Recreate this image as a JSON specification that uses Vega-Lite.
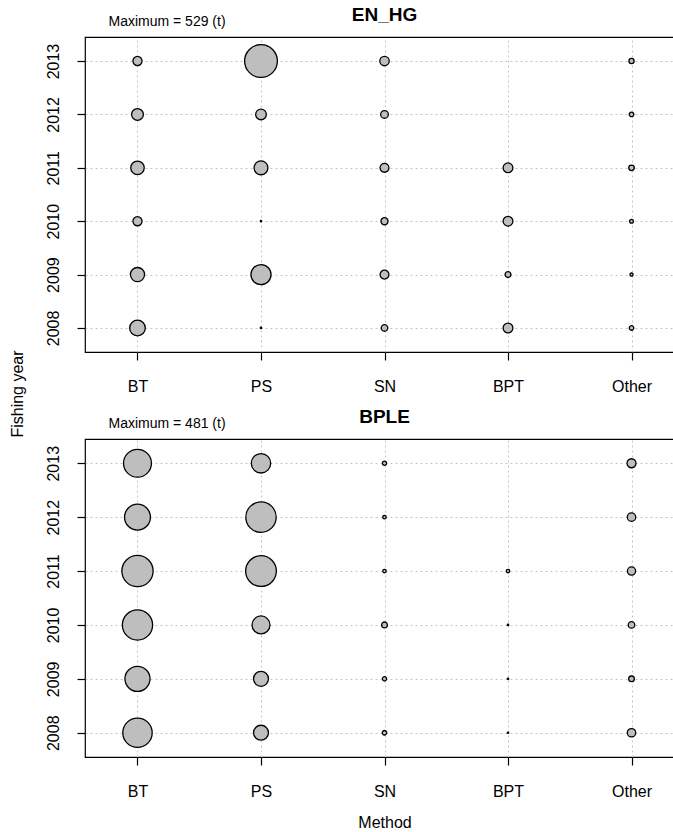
{
  "$schema": "https://vega.github.io/schema/vega-lite/v6.json",
  "padding": {"left": 10, "top": 5, "right": 0, "bottom": 0},
  "background": "white",
  "datasets": {
    "enhg": [
      {"method": "BT", "year": 2013, "catch": 41},
      {"method": "BT", "year": 2012, "catch": 68},
      {"method": "BT", "year": 2011, "catch": 90},
      {"method": "BT", "year": 2010, "catch": 41},
      {"method": "BT", "year": 2009, "catch": 99},
      {"method": "BT", "year": 2008, "catch": 121},
      {"method": "PS", "year": 2013, "catch": 529},
      {"method": "PS", "year": 2012, "catch": 56},
      {"method": "PS", "year": 2011, "catch": 95},
      {"method": "PS", "year": 2010, "catch": 1},
      {"method": "PS", "year": 2009, "catch": 199},
      {"method": "PS", "year": 2008, "catch": 1},
      {"method": "SN", "year": 2013, "catch": 44},
      {"method": "SN", "year": 2012, "catch": 29},
      {"method": "SN", "year": 2011, "catch": 39},
      {"method": "SN", "year": 2010, "catch": 25},
      {"method": "SN", "year": 2009, "catch": 39},
      {"method": "SN", "year": 2008, "catch": 21},
      {"method": "BPT", "year": 2011, "catch": 47},
      {"method": "BPT", "year": 2010, "catch": 47},
      {"method": "BPT", "year": 2009, "catch": 17},
      {"method": "BPT", "year": 2008, "catch": 47},
      {"method": "Other", "year": 2013, "catch": 13},
      {"method": "Other", "year": 2012, "catch": 10},
      {"method": "Other", "year": 2011, "catch": 15},
      {"method": "Other", "year": 2010, "catch": 7},
      {"method": "Other", "year": 2009, "catch": 5},
      {"method": "Other", "year": 2008, "catch": 10}
    ],
    "bple": [
      {"method": "BT", "year": 2013, "catch": 383},
      {"method": "BT", "year": 2012, "catch": 329},
      {"method": "BT", "year": 2011, "catch": 481},
      {"method": "BT", "year": 2010, "catch": 450},
      {"method": "BT", "year": 2009, "catch": 310},
      {"method": "BT", "year": 2008, "catch": 425},
      {"method": "PS", "year": 2013, "catch": 186},
      {"method": "PS", "year": 2012, "catch": 455},
      {"method": "PS", "year": 2011, "catch": 465},
      {"method": "PS", "year": 2010, "catch": 159},
      {"method": "PS", "year": 2009, "catch": 110},
      {"method": "PS", "year": 2008, "catch": 110},
      {"method": "SN", "year": 2013, "catch": 9},
      {"method": "SN", "year": 2012, "catch": 6},
      {"method": "SN", "year": 2011, "catch": 6},
      {"method": "SN", "year": 2010, "catch": 17},
      {"method": "SN", "year": 2009, "catch": 9},
      {"method": "SN", "year": 2008, "catch": 10},
      {"method": "BPT", "year": 2011, "catch": 6},
      {"method": "BPT", "year": 2010, "catch": 1},
      {"method": "BPT", "year": 2009, "catch": 1},
      {"method": "BPT", "year": 2008, "catch": 1},
      {"method": "Other", "year": 2013, "catch": 40},
      {"method": "Other", "year": 2012, "catch": 35},
      {"method": "Other", "year": 2011, "catch": 33},
      {"method": "Other", "year": 2010, "catch": 21},
      {"method": "Other", "year": 2009, "catch": 16},
      {"method": "Other", "year": 2008, "catch": 35}
    ]
  },
  "title": {
    "text": "Fishing year",
    "orient": "left",
    "anchor": "middle",
    "frame": "bounds",
    "fontSize": 16,
    "fontWeight": "normal",
    "font": "Liberation Sans",
    "color": "black",
    "offset": 18,
    "dx": 24
  },
  "spacing": 12,
  "vconcat": [
    {
      "title": {"text": "EN_HG", "anchor": "middle", "offset": -11},
      "width": 599,
      "height": 315,
      "data": {"name": "enhg"},
      "resolve": {"axis": {"x": "independent"}},
      "layer": [
        {
          "mark": {"type": "point", "shape": "circle", "filled": true, "fill": "#bebebe", "stroke": "black", "strokeWidth": 1.3, "opacity": 1},
          "encoding": {
            "x": {"field": "method", "type": "nominal", "scale": {"type": "point", "domain": ["BT", "PS", "SN", "BPT", "Other"], "padding": 0.425}, "axis": {"orient": "bottom", "title": null}},
            "y": {"field": "year", "type": "ordinal", "scale": {"type": "point", "domain": [2013, 2012, 2011, 2010, 2009, 2008], "padding": 0.45}, "axis": {"title": null}},
            "size": {"field": "catch", "type": "quantitative", "scale": {"domain": [0, 529], "range": [0, 1075], "zero": true}, "legend": null}
          }
        },
        {
          "mark": {"type": "point", "opacity": 0},
          "encoding": {
            "x": {"field": "method", "type": "nominal", "axis": {"orient": "top", "title": "Maximum = 529 (t)", "labels": false, "ticks": false, "domain": false, "grid": false, "titleAnchor": "start", "titleX": 23, "titleAlign": "left", "titleFontSize": 14, "titleFontWeight": "normal", "titlePadding": 9}}
          }
        }
      ]
    },
    {
      "title": {"text": "BPLE", "anchor": "middle", "offset": -11},
      "width": 599,
      "height": 318,
      "data": {"name": "bple"},
      "resolve": {"axis": {"x": "independent"}},
      "layer": [
        {
          "mark": {"type": "point", "shape": "circle", "filled": true, "fill": "#bebebe", "stroke": "black", "strokeWidth": 1.3, "opacity": 1},
          "encoding": {
            "x": {"field": "method", "type": "nominal", "scale": {"type": "point", "domain": ["BT", "PS", "SN", "BPT", "Other"], "padding": 0.425}, "axis": {"orient": "bottom", "title": "Method"}},
            "y": {"field": "year", "type": "ordinal", "scale": {"type": "point", "domain": [2013, 2012, 2011, 2010, 2009, 2008], "padding": 0.45}, "axis": {"title": null}},
            "size": {"field": "catch", "type": "quantitative", "scale": {"domain": [0, 481], "range": [0, 1075], "zero": true}, "legend": null}
          }
        },
        {
          "mark": {"type": "point", "opacity": 0},
          "encoding": {
            "x": {"field": "method", "type": "nominal", "axis": {"orient": "top", "title": "Maximum = 481 (t)", "labels": false, "ticks": false, "domain": false, "grid": false, "titleAnchor": "start", "titleX": 23, "titleAlign": "left", "titleFontSize": 14, "titleFontWeight": "normal", "titlePadding": 9}}
          }
        }
      ]
    }
  ],
  "config": {
    "font": "Liberation Sans",
    "view": {"stroke": "black", "strokeWidth": 1.2},
    "title": {"font": "Liberation Sans", "fontSize": 19, "fontWeight": "bold", "color": "black"},
    "axis": {
      "labelFont": "Liberation Sans",
      "titleFont": "Liberation Sans",
      "labelFontSize": 16,
      "titleFontSize": 16,
      "titleFontWeight": "normal",
      "labelColor": "black",
      "titleColor": "black",
      "domain": false,
      "tickColor": "black",
      "tickSize": 8,
      "tickWidth": 1.2,
      "grid": true,
      "gridColor": "#c4c4c4",
      "gridDash": [2, 3],
      "gridWidth": 1
    },
    "axisX": {"labelPadding": 18, "titlePadding": 15, "labelAngle": 0},
    "axisY": {"labelAngle": -90, "labelPadding": 16, "labelAlign": "center", "labelBaseline": "bottom"}
  }
}
